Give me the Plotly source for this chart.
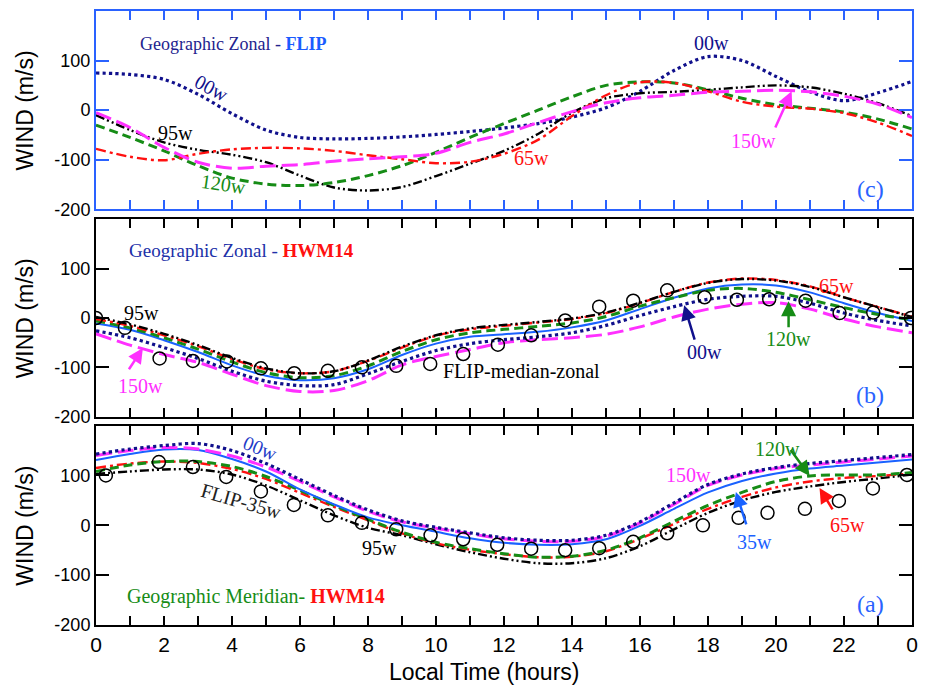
import plotly.graph_objects as go

# ---------------- data ----------------
hours = list(range(25))
x_ticktext = ["0", "", "2", "", "4", "", "6", "", "8", "", "10", "", "12", "", "14", "", "16", "", "18", "", "20", "", "22", "", "0"]
y_tickvals = [-200, -100, 0, 100]
y_ticktext = ["-200", "-100", "0", "100"]

# Panel (c): Geographic Zonal - FLIP
c_00w = [75, 72, 62, 32, -7, -40, -55, -58, -57, -54, -49, -43, -36, -27, -14, 5, 38, 80, 108, 100, 68, 37, 19, 35, 58]
c_95w = [-10, -40, -65, -80, -90, -105, -132, -156, -162, -155, -133, -108, -82, -48, -5, 24, 34, 37, 41, 46, 50, 46, 33, 14, -12]
c_120w = [-30, -55, -82, -112, -137, -149, -152, -146, -132, -112, -85, -55, -27, 0, 27, 50, 57, 55, 41, 24, 11, 4, -4, -18, -38]
c_65w = [-78, -94, -101, -88, -79, -76, -77, -82, -91, -99, -107, -104, -88, -60, -12, 30, 56, 55, 38, 17, 7, 3, -6, -25, -52]
c_150w = [-5, -35, -75, -105, -117, -113, -110, -103, -98, -94, -87, -65, -48, -25, -3, 15, 25, 30, 36, 38, 40, 37, 28, 12, -15]

# Panel (b): Geographic Zonal - HWM14
b_35w = [-11, -24, -45, -69, -96, -117, -126, -122, -104, -75, -52, -38, -33, -28, -19, -5, 18, 41, 60, 68, 66, 52, 30, 10, -6]
b_65w = [-2, -16, -35, -57, -83, -104, -112, -108, -87, -60, -36, -23, -16, -9, -2, 10, 30, 53, 72, 80, 77, 64, 42, 22, 3]
b_95w = [2, -13, -32, -55, -81, -102, -112, -108, -86, -58, -35, -21, -14, -8, -1, 11, 31, 53, 71, 79, 76, 63, 42, 22, 2]
b_120w = [-6, -20, -40, -63, -89, -111, -121, -117, -97, -68, -44, -30, -23, -17, -10, 3, 24, 41, 56, 60, 52, 37, 21, 7, -3]
b_00w = [-26, -40, -60, -82, -108, -128, -137, -135, -113, -88, -66, -52, -44, -38, -30, -15, 5, 23, 38, 44, 44, 30, 10, -5, -16]
b_150w = [-32, -55, -74, -90, -114, -137, -149, -147, -127, -95, -78, -64, -50, -44, -40, -33, -18, 2, 18, 28, 31, 18, -2, -18, -30]
b_flip_h = [0.0, 0.85, 1.87, 2.85, 3.85, 4.85, 5.83, 6.82, 7.82, 8.83, 9.83, 10.8, 11.82, 12.8, 13.8, 14.8, 15.8, 16.8, 17.9, 18.85, 19.8, 20.87, 21.87, 22.86, 23.97]
b_flip = [0, -20, -82, -87, -88, -102, -112, -107, -100, -97, -93, -73, -54, -35, -5, 23, 35, 56, 42, 37, 38, 35, 10, 11, 0]

# Panel (a): Geographic Meridian - HWM14
a_35w = [131, 143, 152, 151, 133, 108, 72, 42, 16, 0, -13, -26, -35, -39, -38, -28, -1, 33, 66, 89, 104, 114, 120, 126, 132]
a_150w = [140, 150, 156, 153, 139, 117, 88, 57, 28, 7, -6, -17, -27, -32, -32, -22, 5, 42, 80, 101, 114, 121, 127, 133, 139]
a_00w = [143, 153, 160, 164, 150, 124, 92, 60, 31, 9, -4, -15, -25, -30, -30, -20, 7, 45, 82, 103, 116, 124, 130, 136, 142]
a_120w = [108, 121, 128, 128, 118, 98, 70, 40, 12, -14, -34, -47, -57, -64, -62, -50, -25, 8, 40, 66, 88, 99, 101, 101, 106]
a_65w = [115, 124, 128, 125, 113, 93, 65, 37, 10, -16, -36, -49, -58, -64, -63, -52, -27, 3, 33, 57, 76, 88, 95, 99, 104]
a_95w = [103, 108, 112, 112, 102, 80, 50, 20, -5, -20, -38, -54, -67, -76, -76, -66, -42, -8, 25, 50, 67, 78, 87, 94, 102]
a_flip_h = [0.29, 1.85, 2.85, 3.83, 4.85, 5.82, 6.82, 7.82, 8.83, 9.84, 10.8, 11.8, 12.8, 13.8, 14.8, 15.8, 16.8, 17.85, 18.9, 19.75, 20.85, 21.85, 22.85, 23.85]
a_flip = [100, 127, 117, 97, 68, 41, 20, 5, -8, -20, -28, -39, -47, -50, -46, -33, -16, 0, 15, 25, 33, 49, 74, 101]

# ---------------- styles ----------------
NAVY = "#10108c"
BLUE = "#1a62ff"
GREEN = "#168c16"
RED = "#ff1010"
MAGENTA = "#ff30ff"
BLACK = "#000000"
PANEL_BLUE = "#2a62ff"

styles = {
    "00w": dict(color=NAVY, dash="dot", width=3.2),
    "95w": dict(color=BLACK, dash="9px,3px,2px,3px,2px,3px", width=2.4),
    "120w": dict(color=GREEN, dash="9px,5px", width=3),
    "65w": dict(color=RED, dash="10px,4px,3px,4px", width=2.4),
    "150w": dict(color=MAGENTA, dash="16px,6px", width=3),
    "35w": dict(color=BLUE, dash="solid", width=2),
}

fig = go.Figure()


def add_line(y, key, xa, ya):
    st = styles[key]
    fig.add_trace(go.Scatter(
        x=hours, y=y, xaxis=xa, yaxis=ya, mode="lines", name=key,
        line=dict(color=st["color"], dash=st["dash"], width=st["width"], shape="spline", smoothing=0.9),
        showlegend=False, hoverinfo="skip"))


def add_circles(xh, y, xa, ya):
    fig.add_trace(go.Scatter(
        x=xh, y=y, xaxis=xa, yaxis=ya, mode="markers",
        marker=dict(symbol="circle-open", size=13, color=BLACK, line=dict(width=1.5, color=BLACK)),
        showlegend=False, hoverinfo="skip"))


# panel c (top): x3/y3
add_line(c_00w, "00w", "x3", "y3")
add_line(c_95w, "95w", "x3", "y3")
add_line(c_120w, "120w", "x3", "y3")
add_line(c_65w, "65w", "x3", "y3")
add_line(c_150w, "150w", "x3", "y3")

# panel b (middle): x2/y2
add_line(b_150w, "150w", "x2", "y2")
add_line(b_00w, "00w", "x2", "y2")
add_line(b_35w, "35w", "x2", "y2")
add_line(b_120w, "120w", "x2", "y2")
add_line(b_65w, "65w", "x2", "y2")
add_line(b_95w, "95w", "x2", "y2")
add_circles(b_flip_h, b_flip, "x2", "y2")

# panel a (bottom): x/y
add_line(a_95w, "95w", "x", "y")
add_line(a_65w, "65w", "x", "y")
add_line(a_120w, "120w", "x", "y")
add_line(a_35w, "35w", "x", "y")
add_line(a_150w, "150w", "x", "y")
add_line(a_00w, "00w", "x", "y")
add_circles(a_flip_h, a_flip, "x", "y")

AX_FONT = "Liberation Sans, Arial, sans-serif"
SERIF = "Liberation Serif, Times New Roman, serif"


def xaxis_cfg(anchor, color, labels):
    return dict(
        anchor=anchor, domain=[0, 1], range=[0, 24], tickmode="array", tickvals=hours,
        ticktext=x_ticktext if labels else [""] * 25, showticklabels=labels,
        ticks="inside", ticklen=9, tickwidth=2, tickcolor=color, mirror="ticks",
        showline=True, linecolor=color, linewidth=2, showgrid=False, zeroline=False,
        tickfont=dict(family=AX_FONT, size=21, color="black"),
    )


def yaxis_cfg(anchor, domain, color):
    return dict(
        anchor=anchor, domain=domain, range=[-200, 200], tickmode="array",
        tickvals=y_tickvals, ticktext=y_ticktext,
        ticks="inside", ticklen=13, tickwidth=2, tickcolor=color, mirror="ticks",
        showline=True, linecolor=color, linewidth=2, showgrid=False, zeroline=False,
        tickfont=dict(family=AX_FONT, size=18, color="black"),
    )


fig.update_layout(
    width=927, height=687,
    margin=dict(l=96, r=11, t=9, b=62),
    paper_bgcolor="white", plot_bgcolor="white",
    showlegend=False,
    xaxis=xaxis_cfg("y", BLACK, True),
    xaxis2=xaxis_cfg("y2", BLACK, False),
    xaxis3=xaxis_cfg("y3", PANEL_BLUE, False),
    yaxis=yaxis_cfg("x", [0, 0.3247], BLACK),
    yaxis2=yaxis_cfg("x2", [0.3393, 0.6607], BLACK),
    yaxis3=yaxis_cfg("x3", [0.677, 1], PANEL_BLUE),
)

# axis titles
for yc in [0.8385, 0.5, 0.1623]:
    fig.add_annotation(text="WIND (m/s)", xref="paper", yref="paper", x=-0.0866, y=yc,
                       textangle=-90, showarrow=False, xanchor="center", yanchor="middle",
                       font=dict(family=AX_FONT, size=23, color="black"))
fig.add_annotation(text="Local Time (hours)", xref="paper", yref="paper", x=0.4756, y=-0.0763,
                   showarrow=False, xanchor="center", yanchor="middle",
                   font=dict(family=AX_FONT, size=23, color="black"))


def label(text, h, v, panel, color, size=20, angle=0, anchor="center"):
    xr, yr = {"a": ("x", "y"), "b": ("x2", "y2"), "c": ("x3", "y3")}[panel]
    fig.add_annotation(text=text, x=h, y=v, xref=xr, yref=yr, showarrow=False,
                       xanchor=anchor, yanchor="middle", textangle=angle,
                       font=dict(family=SERIF, size=size, color=color))


def arrow(tail, tip, panel, color):
    xr, yr = {"a": ("x", "y"), "b": ("x2", "y2"), "c": ("x3", "y3")}[panel]
    fig.add_annotation(text="", x=tip[0], y=tip[1], ax=tail[0], ay=tail[1],
                       xref=xr, yref=yr, axref=xr, ayref=yr, showarrow=True,
                       arrowhead=2, arrowsize=1.2, arrowwidth=2.5, arrowcolor=color)


# panel c texts
label("Geographic Zonal - <b><span style='color:#1a5cff'>FLIP</span></b>", 1.23, 134, "c", "#23238e", size=18, anchor="left")
label("00w", 3.40, 44, "c", NAVY, angle=28)
label("95w", 2.34, -46, "c", BLACK)
label("120w", 3.75, -148, "c", GREEN, angle=8)
label("00w", 18.09, 136, "c", NAVY)
label("65w", 12.82, -96, "c", RED)
label("150w", 19.35, -62, "c", MAGENTA)
arrow((19.96, -38), (20.46, 38), "c", MAGENTA)
label("(c)", 22.77, -158, "c", PANEL_BLUE, size=24)

# panel b texts
label("Geographic Zonal - <b><span style='color:#ff1010'>HWM14</span></b>", 0.91, 137, "b", "#2030a8", size=19, anchor="left")
label("95w", 1.35, 10, "b", BLACK)
label("150w", 1.32, -137, "b", MAGENTA)
arrow((0.94, -107), (1.38, -61), "b", MAGENTA)
label("FLIP-median-zonal", 12.5, -107, "b", BLACK)
label("00w", 17.91, -69, "b", NAVY)
arrow((17.62, -47), (17.3, 26), "b", NAVY)
label("120w", 20.37, -42, "b", GREEN)
arrow((20.37, -22), (20.37, 34), "b", GREEN)
label("65w", 21.77, 65, "b", RED)
label("(b)", 22.77, -156, "b", PANEL_BLUE, size=24)

# panel a texts
label("00w", 4.83, 156, "a", "#1e3cc8", angle=22)
label("FLIP-35w", 4.27, 49, "a", "#222222", angle=16)
label("95w", 8.34, -45, "a", BLACK)
label("Geographic Meridian- <b><span style='color:#ff1010'>HWM14</span></b>", 0.85, -142, "a", GREEN, size=20, anchor="left")
label("150w", 17.44, 100, "a", MAGENTA)
label("120w", 20.05, 154, "a", GREEN)
arrow((20.4, 154), (20.99, 99), "a", GREEN)
label("35w", 19.38, -33, "a", BLUE)
arrow((19.14, -1), (18.82, 67), "a", BLUE)
label("65w", 22.1, 1, "a", RED)
arrow((21.69, 29), (21.28, 75), "a", RED)
label("(a)", 22.77, -158, "a", PANEL_BLUE, size=24)

fig.write_html("out.html")
